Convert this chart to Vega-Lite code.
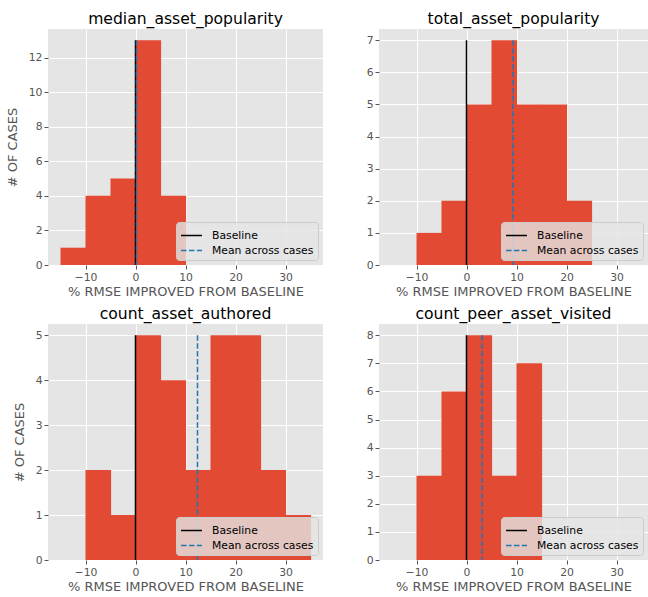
{
  "$schema": "https://vega.github.io/schema/vega-lite/v6.json",
  "padding": {"left": 6, "top": 12, "right": 0, "bottom": 0},
  "background": "white",
  "config": {
    "view": {"fill": "#E5E5E5", "stroke": null},
    "font": "DejaVu Sans",
    "axis": {
      "domain": false, "grid": true, "gridColor": "#FFFFFF", "gridWidth": 1,
      "tickColor": "#555555", "tickSize": 4, "tickWidth": 1,
      "labelColor": "#555555", "labelFontSize": 10.8, "labelFont": "DejaVu Sans", "labelPadding": 2,
      "titleColor": "#555555", "titleFontSize": 13, "titleFont": "DejaVu Sans", "titleFontWeight": "normal"
    },
    "axisY": {"titlePadding": 9},
    "title": {"font": "DejaVu Sans", "fontSize": 15.6, "fontWeight": "normal", "color": "#000000", "offset": 1, "anchor": "middle"},
    "legend": {
      "orient": "bottom-right", "title": null, "symbolType": "M-1.25,0H1.25", "symbolSize": 280, "symbolStrokeWidth": 1.5, "symbolOffset": 2,
      "labelFontSize": 10.8, "labelColor": "#000000", "labelFont": "DejaVu Sans", "labelOffset": 11,
      "fillColor": "rgba(229,229,229,0.8)", "strokeColor": "#CCCCCC", "padding": 4, "offset": 5, "rowPadding": 0, "cornerRadius": 3
    }
  },
  "datasets": {
    "bins": [
      {"panel": "median_asset_popularity", "bin_start": -15, "bin_end": -10, "count": 1},
      {"panel": "median_asset_popularity", "bin_start": -10, "bin_end": -5, "count": 4},
      {"panel": "median_asset_popularity", "bin_start": -5, "bin_end": 0, "count": 5},
      {"panel": "median_asset_popularity", "bin_start": 0, "bin_end": 5, "count": 13},
      {"panel": "median_asset_popularity", "bin_start": 5, "bin_end": 10, "count": 4},
      {"panel": "total_asset_popularity", "bin_start": -10, "bin_end": -5, "count": 1},
      {"panel": "total_asset_popularity", "bin_start": -5, "bin_end": 0, "count": 2},
      {"panel": "total_asset_popularity", "bin_start": 0, "bin_end": 5, "count": 5},
      {"panel": "total_asset_popularity", "bin_start": 5, "bin_end": 10, "count": 7},
      {"panel": "total_asset_popularity", "bin_start": 10, "bin_end": 15, "count": 5},
      {"panel": "total_asset_popularity", "bin_start": 15, "bin_end": 20, "count": 5},
      {"panel": "total_asset_popularity", "bin_start": 20, "bin_end": 25, "count": 2},
      {"panel": "count_asset_authored", "bin_start": -10, "bin_end": -5, "count": 2},
      {"panel": "count_asset_authored", "bin_start": -5, "bin_end": 0, "count": 1},
      {"panel": "count_asset_authored", "bin_start": 0, "bin_end": 5, "count": 5},
      {"panel": "count_asset_authored", "bin_start": 5, "bin_end": 10, "count": 4},
      {"panel": "count_asset_authored", "bin_start": 10, "bin_end": 15, "count": 2},
      {"panel": "count_asset_authored", "bin_start": 15, "bin_end": 20, "count": 5},
      {"panel": "count_asset_authored", "bin_start": 20, "bin_end": 25, "count": 5},
      {"panel": "count_asset_authored", "bin_start": 25, "bin_end": 30, "count": 2},
      {"panel": "count_asset_authored", "bin_start": 30, "bin_end": 35, "count": 1},
      {"panel": "count_peer_asset_visited", "bin_start": -10, "bin_end": -5, "count": 3},
      {"panel": "count_peer_asset_visited", "bin_start": -5, "bin_end": 0, "count": 6},
      {"panel": "count_peer_asset_visited", "bin_start": 0, "bin_end": 5, "count": 8},
      {"panel": "count_peer_asset_visited", "bin_start": 5, "bin_end": 10, "count": 3},
      {"panel": "count_peer_asset_visited", "bin_start": 10, "bin_end": 15, "count": 7}
    ],
    "lines": [
      {"panel": "median_asset_popularity", "line": "Baseline", "x": 0, "ymax": 13},
      {"panel": "median_asset_popularity", "line": "Mean across cases", "x": 0.2, "ymax": 13},
      {"panel": "total_asset_popularity", "line": "Baseline", "x": 0, "ymax": 7},
      {"panel": "total_asset_popularity", "line": "Mean across cases", "x": 9.3, "ymax": 7},
      {"panel": "count_asset_authored", "line": "Baseline", "x": 0, "ymax": 5},
      {"panel": "count_asset_authored", "line": "Mean across cases", "x": 12.4, "ymax": 5},
      {"panel": "count_peer_asset_visited", "line": "Baseline", "x": 0, "ymax": 8},
      {"panel": "count_peer_asset_visited", "line": "Mean across cases", "x": 3.1, "ymax": 8}
    ]
  },
  "columns": 2,
  "bounds": "flush",
  "spacing": {"row": 59, "column": 56},
  "concat": [
    {
      "width": 275, "height": 236,
      "title": "median_asset_popularity",
      "layer": [
        {
          "data": {"name": "bins"},
          "transform": [{"filter": "datum.panel === 'median_asset_popularity'"}],
          "mark": {"type": "rect", "color": "#E24A33", "x2Offset": 0.6},
          "encoding": {
            "x": {"field": "bin_start", "type": "quantitative", "scale": {"domain": [-17.5, 37.5], "nice": false, "zero": false}, "axis": {"values": [-10, 0, 10, 20, 30], "title": "% RMSE IMPROVED FROM BASELINE"}},
            "x2": {"field": "bin_end"},
            "y": {"field": "count", "type": "quantitative", "scale": {"domain": [0, 13.65], "nice": false}, "axis": {"values": [0, 2, 4, 6, 8, 10, 12], "title": "# OF CASES"}},
            "y2": {"datum": 0}
          }
        },
        {
          "data": {"name": "lines"},
          "transform": [{"filter": "datum.panel === 'median_asset_popularity'"}],
          "mark": {"type": "rule", "strokeWidth": 1.5},
          "encoding": {
            "x": {"field": "x", "type": "quantitative", "axis": {"values": [-10, 0, 10, 20, 30], "title": "% RMSE IMPROVED FROM BASELINE"}},
            "y": {"field": "ymax", "type": "quantitative", "axis": {"values": [0, 2, 4, 6, 8, 10, 12], "title": "# OF CASES"}},
            "y2": {"datum": 0},
            "color": {"field": "line", "type": "nominal", "scale": {"domain": ["Baseline", "Mean across cases"], "range": ["#000000", "#1F77B4"]}},
            "strokeDash": {"field": "line", "type": "nominal", "scale": {"domain": ["Baseline", "Mean across cases"], "range": [[1, 0], [5.5, 2.4]]}}
          }
        }
      ]
    },
    {
      "width": 269, "height": 236,
      "title": "total_asset_popularity",
      "layer": [
        {
          "data": {"name": "bins"},
          "transform": [{"filter": "datum.panel === 'total_asset_popularity'"}],
          "mark": {"type": "rect", "color": "#E24A33", "x2Offset": 0.6},
          "encoding": {
            "x": {"field": "bin_start", "type": "quantitative", "scale": {"domain": [-17.5, 36.3], "nice": false, "zero": false}, "axis": {"values": [-10, 0, 10, 20, 30], "title": "% RMSE IMPROVED FROM BASELINE"}},
            "x2": {"field": "bin_end"},
            "y": {"field": "count", "type": "quantitative", "scale": {"domain": [0, 7.35], "nice": false}, "axis": {"values": [0, 1, 2, 3, 4, 5, 6, 7], "title": null}},
            "y2": {"datum": 0}
          }
        },
        {
          "data": {"name": "lines"},
          "transform": [{"filter": "datum.panel === 'total_asset_popularity'"}],
          "mark": {"type": "rule", "strokeWidth": 1.5},
          "encoding": {
            "x": {"field": "x", "type": "quantitative", "axis": {"values": [-10, 0, 10, 20, 30], "title": "% RMSE IMPROVED FROM BASELINE"}},
            "y": {"field": "ymax", "type": "quantitative", "axis": {"values": [0, 1, 2, 3, 4, 5, 6, 7], "title": null}},
            "y2": {"datum": 0},
            "color": {"field": "line", "type": "nominal", "scale": {"domain": ["Baseline", "Mean across cases"], "range": ["#000000", "#1F77B4"]}},
            "strokeDash": {"field": "line", "type": "nominal", "scale": {"domain": ["Baseline", "Mean across cases"], "range": [[1, 0], [5.5, 2.4]]}}
          }
        }
      ]
    },
    {
      "width": 275, "height": 236,
      "title": "count_asset_authored",
      "layer": [
        {
          "data": {"name": "bins"},
          "transform": [{"filter": "datum.panel === 'count_asset_authored'"}],
          "mark": {"type": "rect", "color": "#E24A33", "x2Offset": 0.6},
          "encoding": {
            "x": {"field": "bin_start", "type": "quantitative", "scale": {"domain": [-17.5, 37.5], "nice": false, "zero": false}, "axis": {"values": [-10, 0, 10, 20, 30], "title": "% RMSE IMPROVED FROM BASELINE"}},
            "x2": {"field": "bin_end"},
            "y": {"field": "count", "type": "quantitative", "scale": {"domain": [0, 5.25], "nice": false}, "axis": {"values": [0, 1, 2, 3, 4, 5], "title": "# OF CASES"}},
            "y2": {"datum": 0}
          }
        },
        {
          "data": {"name": "lines"},
          "transform": [{"filter": "datum.panel === 'count_asset_authored'"}],
          "mark": {"type": "rule", "strokeWidth": 1.5},
          "encoding": {
            "x": {"field": "x", "type": "quantitative", "axis": {"values": [-10, 0, 10, 20, 30], "title": "% RMSE IMPROVED FROM BASELINE"}},
            "y": {"field": "ymax", "type": "quantitative", "axis": {"values": [0, 1, 2, 3, 4, 5], "title": "# OF CASES"}},
            "y2": {"datum": 0},
            "color": {"field": "line", "type": "nominal", "scale": {"domain": ["Baseline", "Mean across cases"], "range": ["#000000", "#1F77B4"]}},
            "strokeDash": {"field": "line", "type": "nominal", "scale": {"domain": ["Baseline", "Mean across cases"], "range": [[1, 0], [5.5, 2.4]]}}
          }
        }
      ]
    },
    {
      "width": 269, "height": 236,
      "title": "count_peer_asset_visited",
      "layer": [
        {
          "data": {"name": "bins"},
          "transform": [{"filter": "datum.panel === 'count_peer_asset_visited'"}],
          "mark": {"type": "rect", "color": "#E24A33", "x2Offset": 0.6},
          "encoding": {
            "x": {"field": "bin_start", "type": "quantitative", "scale": {"domain": [-17.5, 36.3], "nice": false, "zero": false}, "axis": {"values": [-10, 0, 10, 20, 30], "title": "% RMSE IMPROVED FROM BASELINE"}},
            "x2": {"field": "bin_end"},
            "y": {"field": "count", "type": "quantitative", "scale": {"domain": [0, 8.4], "nice": false}, "axis": {"values": [0, 1, 2, 3, 4, 5, 6, 7, 8], "title": null}},
            "y2": {"datum": 0}
          }
        },
        {
          "data": {"name": "lines"},
          "transform": [{"filter": "datum.panel === 'count_peer_asset_visited'"}],
          "mark": {"type": "rule", "strokeWidth": 1.5},
          "encoding": {
            "x": {"field": "x", "type": "quantitative", "axis": {"values": [-10, 0, 10, 20, 30], "title": "% RMSE IMPROVED FROM BASELINE"}},
            "y": {"field": "ymax", "type": "quantitative", "axis": {"values": [0, 1, 2, 3, 4, 5, 6, 7, 8], "title": null}},
            "y2": {"datum": 0},
            "color": {"field": "line", "type": "nominal", "scale": {"domain": ["Baseline", "Mean across cases"], "range": ["#000000", "#1F77B4"]}},
            "strokeDash": {"field": "line", "type": "nominal", "scale": {"domain": ["Baseline", "Mean across cases"], "range": [[1, 0], [5.5, 2.4]]}}
          }
        }
      ]
    }
  ],
  "resolve": {
    "scale": {"x": "independent", "y": "independent", "color": "independent", "strokeDash": "independent"},
    "legend": {"color": "independent", "strokeDash": "independent"}
  }
}
